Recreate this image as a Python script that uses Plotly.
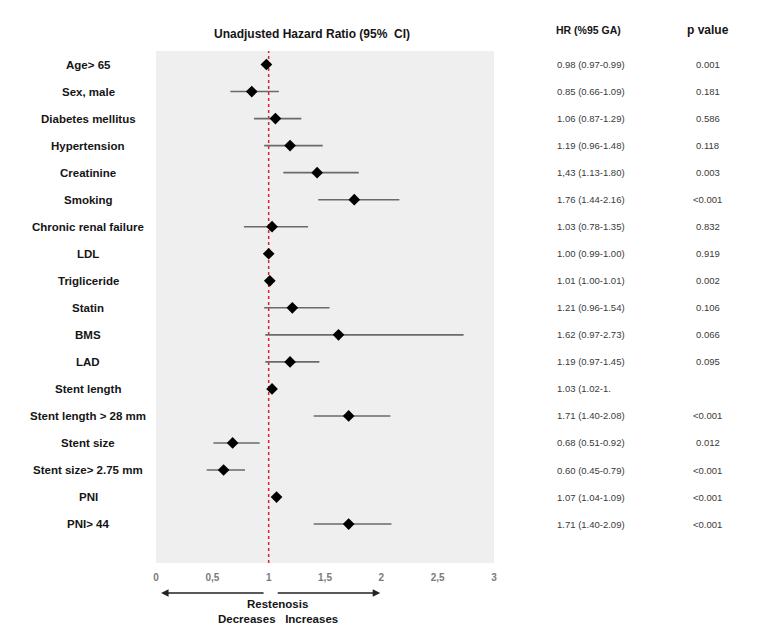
import plotly.graph_objects as go

labels = ["Age> 65", "Sex, male", "Diabetes mellitus", "Hypertension", "Creatinine",
          "Smoking", "Chronic renal failure", "LDL", "Trigliceride", "Statin", "BMS",
          "LAD", "Stent length", "Stent length > 28 mm", "Stent size",
          "Stent size> 2.75 mm", "PNI", "PNI> 44"]
hr = [0.98, 0.85, 1.06, 1.19, 1.43, 1.76, 1.03, 1.00, 1.01, 1.21, 1.62, 1.19,
      1.03, 1.71, 0.68, 0.60, 1.07, 1.71]
ci_low = [0.97, 0.66, 0.87, 0.96, 1.13, 1.44, 0.78, 0.99, 1.00, 0.96, 0.97, 0.97,
          1.02, 1.40, 0.51, 0.45, 1.04, 1.40]
ci_high = [0.99, 1.09, 1.29, 1.48, 1.80, 2.16, 1.35, 1.00, 1.01, 1.54, 2.73, 1.45,
           1.04, 2.08, 0.92, 0.79, 1.09, 2.09]
hr_text = ["0.98 (0.97-0.99)", "0.85 (0.66-1.09)", "1.06 (0.87-1.29)", "1.19 (0.96-1.48)",
           "1,43 (1.13-1.80)", "1.76 (1.44-2.16)", "1.03 (0.78-1.35)", "1.00 (0.99-1.00)",
           "1.01 (1.00-1.01)", "1.21 (0.96-1.54)", "1.62 (0.97-2.73)", "1.19 (0.97-1.45)",
           "1.03 (1.02-1.", "1.71 (1.40-2.08)", "0.68 (0.51-0.92)", "0.60 (0.45-0.79)",
           "1.07 (1.04-1.09)", "1.71 (1.40-2.09)"]
p_text = ["0.001", "0.181", "0.586", "0.118", "0.003", "<0.001", "0.832", "0.919",
          "0.002", "0.106", "0.066", "0.095", "", "<0.001", "0.012", "<0.001",
          "<0.001", "<0.001"]
x_ticks = [0, 0.5, 1, 1.5, 2, 2.5, 3]
x_tick_text = ["0", "0,5", "1", "1,5", "2", "2,5", "3"]

rows = list(range(len(labels)))
FONT = "Liberation Sans, Arial, sans-serif"

fig = go.Figure()
fig.add_trace(go.Scatter(
    x=hr, y=rows, mode="markers",
    marker=dict(symbol="diamond", size=9, color="black"),
    error_x=dict(type="data", symmetric=False,
                 array=[h - m for h, m in zip(ci_high, hr)],
                 arrayminus=[m - l for m, l in zip(hr, ci_low)],
                 color="#6a6a6a", thickness=1.6, width=0),
    showlegend=False, cliponaxis=False,
))

fig.add_shape(type="line", xref="x", yref="paper", x0=1, x1=1, y0=0, y1=1,
              line=dict(color="#e0202a", width=1.5, dash="dot"), layer="below")

ann = []
for i, lab in enumerate(labels):
    ann.append(dict(text=f"<b>{lab}</b>", x=-0.201, xref="paper", y=i, yref="y",
                    xanchor="center", yanchor="middle", showarrow=False,
                    font=dict(family=FONT, size=11.5, color="#151515")))
    ann.append(dict(text=hr_text[i], x=1.180, xref="paper", y=i, yref="y",
                    xanchor="left", yanchor="middle", showarrow=False,
                    font=dict(family=FONT, size=9.5, color="#3a3a3a")))
    if p_text[i]:
        ann.append(dict(text=p_text[i], x=1.633, xref="paper", y=i, yref="y",
                        xanchor="center", yanchor="middle", showarrow=False,
                        font=dict(family=FONT, size=9.5, color="#3a3a3a")))

ann.append(dict(text="<b>Unadjusted Hazard Ratio (95%  CI)</b>", x=0.4615, xref="paper",
                y=1.033, yref="paper", xanchor="center", yanchor="middle", showarrow=False,
                font=dict(family=FONT, size=12, color="#151515")))
ann.append(dict(text="<b>HR (%95 GA)</b>", x=1.177, xref="paper", y=1.041, yref="paper",
                xanchor="left", yanchor="middle", showarrow=False,
                font=dict(family=FONT, size=10.5, color="#151515")))
ann.append(dict(text="<b>p value</b>", x=1.633, xref="paper", y=1.041, yref="paper",
                xanchor="center", yanchor="middle", showarrow=False,
                font=dict(family=FONT, size=12, color="#151515")))

# direction arrows
ann.append(dict(text="", x=0.045, xref="x", y=-0.0586, yref="paper", showarrow=True,
                ax=104, ay=0, axref="pixel", ayref="pixel", arrowhead=2, arrowsize=1,
                arrowwidth=1.5, arrowcolor="#222222"))
ann.append(dict(text="", x=1.99, xref="x", y=-0.0586, yref="paper", showarrow=True,
                ax=-104, ay=0, axref="pixel", ayref="pixel", arrowhead=2, arrowsize=1,
                arrowwidth=1.5, arrowcolor="#222222"))
ann.append(dict(text="<b>Restenosis</b>", x=1.08, xref="x", y=-0.080, yref="paper",
                xanchor="center", yanchor="middle", showarrow=False,
                font=dict(family=FONT, size=11.5, color="#151515")))
ann.append(dict(text="<b>Decreases   Increases</b>", x=1.08, xref="x", y=-0.109, yref="paper",
                xanchor="center", yanchor="middle", showarrow=False,
                font=dict(family=FONT, size=11.5, color="#151515")))

fig.update_layout(
    width=761, height=637,
    margin=dict(l=156, r=267, t=51, b=74),
    paper_bgcolor="white", plot_bgcolor="#efefef",
    annotations=ann,
    xaxis=dict(range=[0, 3], tickvals=x_ticks,
               ticktext=[f"<b>{t}</b>" for t in x_tick_text],
               showgrid=False, zeroline=False, showline=False, ticks="",
               ticklabelstandoff=7,
               tickfont=dict(family=FONT, size=10, color="#7a7a7a")),
    yaxis=dict(range=[18.44, -0.5], showticklabels=False, showgrid=False,
               zeroline=False, showline=False, ticks=""),
)

fig.write_html("out.html")
